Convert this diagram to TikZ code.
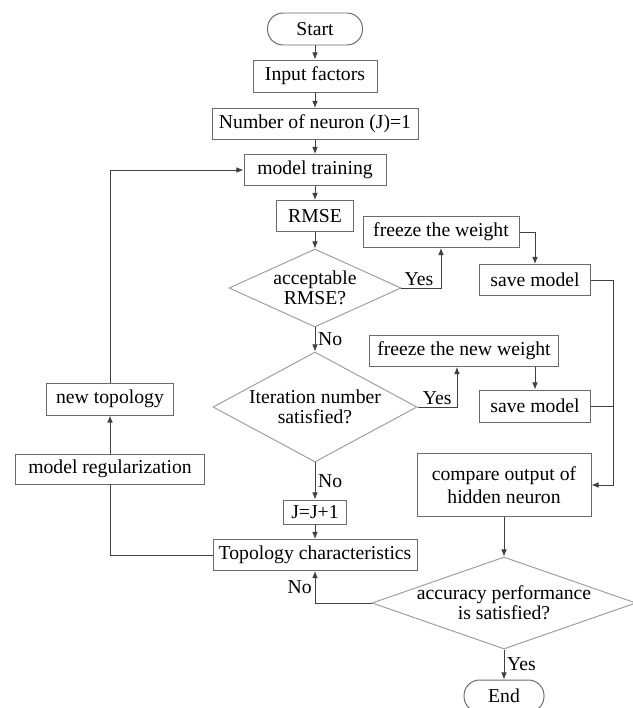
\documentclass[tikz,border=0pt]{standalone}
\usepackage{fontspec}
\setmainfont{Liberation Serif}
\usepackage{tikz}
\usetikzlibrary{arrows.meta}
\usetikzlibrary{shapes.geometric}
\definecolor{boxgray}{gray}{0.42}
\definecolor{diagray}{gray}{0.62}
\definecolor{linegray}{gray}{0.25}
\tikzset{
  dims/.style 2 args={minimum width=#1*0.025cm, minimum height=#2*0.025cm},
  box/.style={draw=boxgray, line width=0.7pt, inner sep=0pt, align=center},
  term/.style={box, rounded corners=0.39cm},
  decision/.style={draw=diagray, line width=0.7pt, diamond, inner sep=0pt},
  flow/.style={draw=linegray, line width=0.6pt},
  arr/.style={flow, -{Latex[length=5pt,width=4pt]}}
}

\begin{document}
\begin{tikzpicture}[x=0.025cm, y=-0.025cm, font=\fontsize{14}{16.5}\selectfont]
    \useasboundingbox (0,0) rectangle (632,708);
    \node[term, dims={95}{32}] (start) at (315,29) {Start};
    \node[box, dims={124}{32}] (input) at (315,76) {Input factors};
    \node[box, dims={206}{31}] (neuron) at (315,124) {Number of neuron (J)=1};
    \node[box, dims={142}{31}] (train) at (315,170) {model training};
    \node[box, dims={77}{31}] (rmse) at (315,216) {RMSE};
    \node[decision, dims={172}{78}, label={[align=center]center:acceptable\\[-2pt]RMSE?}] (accept) at (315,288) {};
    \node[box, dims={156}{31}] (freeze) at (441,232) {freeze the weight};
    \node[box, dims={111}{31}] (saveA) at (535,280) {save model};
    \node[decision, dims={204}{110}, label={[align=center]center:Iteration number\\[-2pt]satisfied?}] (iter) at (315,407) {};
    \node[box, dims={189}{31}] (freezenew) at (464,351) {freeze the new weight};
    \node[box, dims={111}{32}] (saveB) at (535,406) {save model};
    \node[box, dims={174}{63}] (compare) at (504,485) {compare output of\\hidden neuron};
    \node[decision, dims={264}{92}, label={[align=center]center:accuracy performance\\[-2pt]is satisfied?}] (perf) at (504,603) {};
    \node[term, dims={80}{32}] (end) at (504,696) {End};
    \node[box, dims={63}{24}] (incr) at (315,512) {J=J+1};
    \node[box, dims={204}{31}] (topo) at (315,555) {Topology characteristics};
    \node[box, dims={127}{32}] (newtopo) at (110,399) {new topology};
    \node[box, dims={189}{30}] (reg) at (110,469) {model regularization};
    \coordinate (rail) at (613,280);

    \draw[arr] (start) -- (input);
    \draw[arr] (input) -- (neuron);
    \draw[arr] (neuron) -- (train);
    \draw[arr] (train) -- (rmse);
    \draw[arr] (rmse) -- (accept);
    \draw[arr] (accept.east) -| node[pos=0.22, above, inner sep=1pt] {Yes} (freeze.south);
    \draw[arr] (freeze.east) -| (saveA.north);
    \draw[arr] (accept.south) -- node[right, inner sep=2pt] {No} (iter.north);
    \draw[arr] (iter.east) -| node[pos=0.25, above, inner sep=1pt] {Yes} ([xshift=-5pt]freezenew.south);
    \draw[arr] (freezenew.south -| saveB.north) -- (saveB.north);
    \draw[arr] (saveA.east) -- (rail) |- (compare.east);
    \draw[flow] (saveB.east) -- (saveB.east -| rail);
    \draw[arr] (compare) -- (perf.north);
    \draw[arr] (perf.south) -- node[right, inner sep=2pt] {Yes} (end.north);
    \draw[arr] (perf.west) -| node[pos=0.75, left, inner sep=2pt] {No} (topo.south);
    \draw[arr] (iter.south) -- node[right, inner sep=2pt] {No} (incr.north);
    \draw[arr] (incr) -- (topo);
    \draw[flow] (topo.west) -| (reg.south);
    \draw[arr] (reg) -- (newtopo);
    \draw[arr] (newtopo.north) |- (train.west);
  \end{tikzpicture}
\end{document}
